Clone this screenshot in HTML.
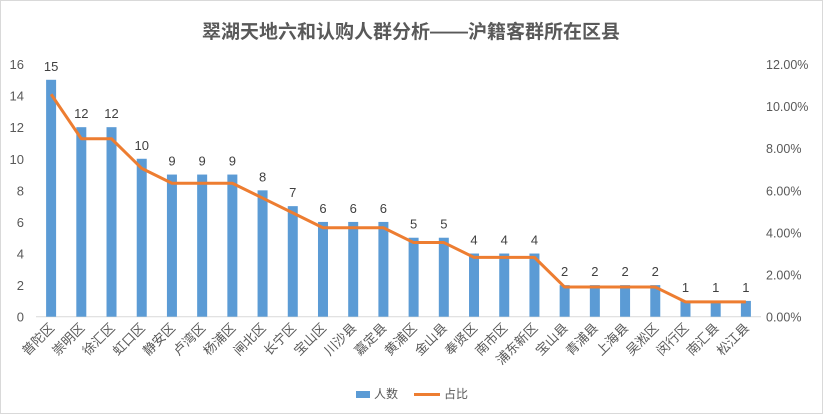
<!DOCTYPE html>
<html><head><meta charset="utf-8"><style>
body{margin:0;background:#fff;}
svg{display:block;font-family:"Liberation Sans","Noto Sans CJK SC",sans-serif;}
</style></head><body>
<svg id="c" width="823" height="414">
<rect x="0.5" y="0.5" width="822" height="413" fill="#fff" stroke="#d9d9d9"/>
<text x="411" y="38" text-anchor="middle" font-size="19" font-weight="bold" fill="#595959">翠湖天地六和认购人群分析——沪籍客群所在区县</text>
<g id="g"></g>
<g>
<rect x="356" y="391" width="14" height="7" fill="#5b9bd5"/>
<text x="374" y="398" font-size="12" fill="#595959">人数</text>
<line x1="414" y1="394.5" x2="440" y2="394.5" stroke="#ed7d31" stroke-width="3"/>
<text x="444" y="398" font-size="12" fill="#595959">占比</text>
</g>
</svg>
<script>
const categories=["普陀区","崇明区","徐汇区","虹口区","静安区","卢湾区","杨浦区","闸北区","长宁区","宝山区","川沙县","嘉定县","黄浦区","金山县","奉贤区","南市区","浦东新区","宝山县","青浦县","上海县","吴淞区","闵行区","南汇县","松江县"];
const counts=[15,12,12,10,9,9,9,8,7,6,6,6,5,5,4,4,4,2,2,2,2,1,1,1];
const leftTicks=[0,2,4,6,8,10,12,14,16];
const rightTicks=[0,2,4,6,8,10,12];
const NS="http://www.w3.org/2000/svg";
const g=document.getElementById('g');
const x0=36,x1=761,yb=316.7,yt=64;
const total=counts.reduce((a,b)=>a+b,0);
const step=(x1-x0)/categories.length;
const xc=i=>x0+step*(i+0.5);
const yL=v=>yb-(v/16)*(yb-yt);
const yR=p=>yb-(p/12)*(yb-yt);
function mk(t,a){const e=document.createElementNS(NS,t);for(const k in a)e.setAttribute(k,a[k]);g.appendChild(e);return e;}
leftTicks.forEach(v=>{const t=mk('text',{x:24,y:yL(v)+5,'text-anchor':'end','font-size':13,fill:'#595959'});t.textContent=v;

});
rightTicks.forEach(v=>{const t=mk('text',{x:766,y:yR(v)+5,'font-size':12.5,fill:'#595959'});t.textContent=v.toFixed(2)+'%';

});
const ax=mk('line',{x1:x0,x2:x1,y1:yb,y2:yb,stroke:'#d9d9d9'});


counts.forEach((v,i)=>{
 const r=mk('rect',{x:xc(i)-5,y:yL(v),width:10,height:yb-yL(v),fill:'#5b9bd5'});
 
 
 const t=mk('text',{x:xc(i),y:yL(v)-9,'text-anchor':'middle','font-size':13,fill:'#404040'});t.textContent=v;
 
 
 const c=mk('text',{x:0,y:0,'text-anchor':'end','font-size':13,fill:'#595959',transform:`translate(${xc(i)+4},${yb+12}) rotate(-45)`});c.textContent=categories[i];
 
 
});
const pts=counts.map((v,i)=>xc(i)+','+yR(v/total*100)).join(' ');
const pl=mk('polyline',{points:pts,fill:'none',stroke:'#ed7d31','stroke-width':3,'stroke-linejoin':'round'});


</script>
</body></html>
